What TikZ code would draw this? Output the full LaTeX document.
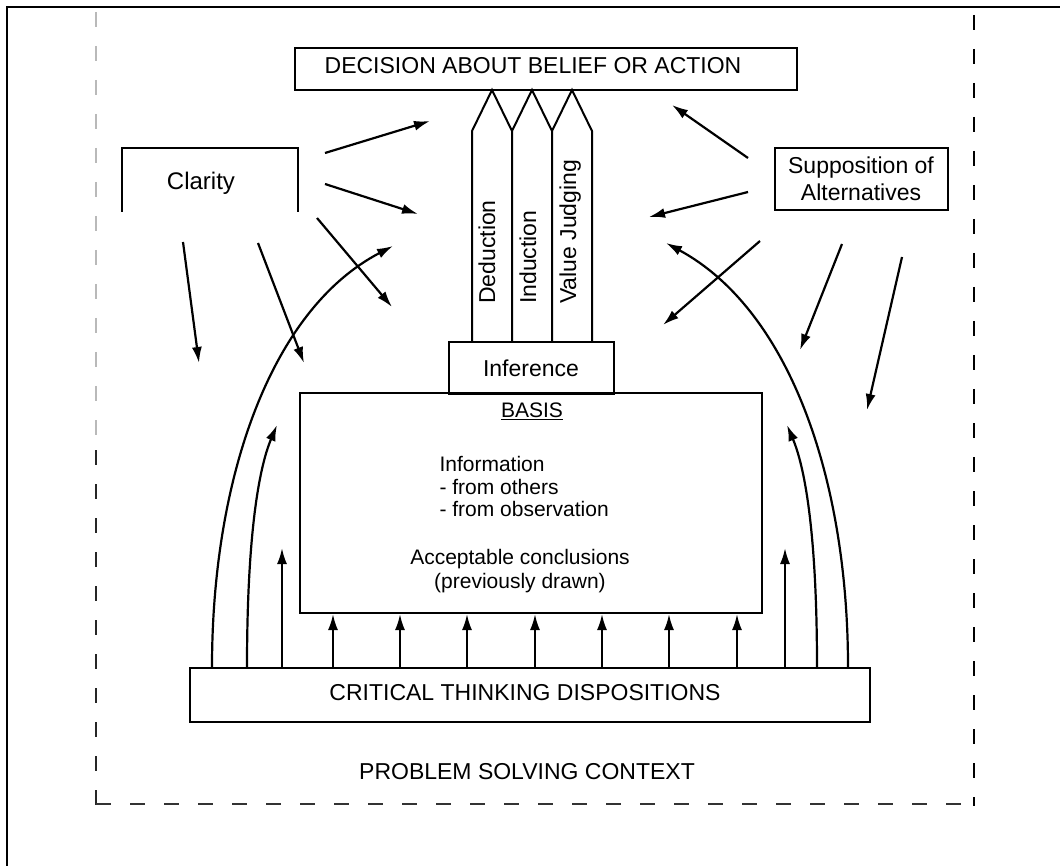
\documentclass[tikz,border=0pt]{standalone}
\usepackage{fontspec}
\setmainfont{Liberation Sans}
\usetikzlibrary{arrows.meta}
\begin{document}
\begin{tikzpicture}[x=1pt,y=-1pt,
  frame/.style={line width=2.4pt},
  box/.style={draw,line width=2pt,inner sep=0pt},
  col/.style={line width=2pt,line join=miter},
  arr/.style={line width=2.2pt,-{Latex[length=16pt,width=10pt]}},
  capsfont/.style={font=\fontsize{23}{27}\selectfont},
  boxfont/.style={font=\fontsize{23}{27}\selectfont},
  bodyfont/.style={font=\fontsize{21}{24}\selectfont},
  border/.style={line width=2.2pt,dash pattern=on 15pt off 19pt}]

\useasboundingbox (0,0) rectangle (1060,866);

% outer frame
\draw[frame] (1060,7) -- (7,7) -- (7,866);

% dashed border of the problem solving context
\draw[border,gray!55] (96,12) -- (96,450);
\draw[border,black!85] (96,450) -- (96,806);
\draw[border] (974,15) -- (974,806);
\draw[border,black!80] (96,804) -- (974,804);

% decision box
\node[box,minimum width=502pt,minimum height=42pt] (decision) at (546,69) {};
\node[capsfont] (decisiontext) at (533,66) {DECISION ABOUT BELIEF OR ACTION};

% clarity box (open at the bottom)
\draw[line width=2pt] (122,212) -- (122,148) -- (298,148) -- (298,212);
\node[boxfont,font=\fontsize{24}{28}\selectfont] (clarity) at (201,183) {Clarity};

% supposition box
\node[box,minimum width=173pt,minimum height=62pt] (suppbox) at (861,179) {};
\node[boxfont,align=center] (supp) at (861,179) {Supposition of\\Alternatives};

% the three inference columns
\draw[col] (472,342) -- (472,131) -- (492,90) -- (512,131) -- (512,342);
\draw[col] (512,131) -- (532,90) -- (552,131) -- (552,342);
\draw[col] (552,131) -- (572,90) -- (592,131) -- (592,342);
\node[boxfont,rotate=90,anchor=base west,inner sep=0pt] (ded) at (495,304) {Deduction};
\node[boxfont,rotate=90,anchor=base west,inner sep=0pt] (ind) at (536,304) {Induction};
\node[boxfont,rotate=90,anchor=base west,inner sep=0pt] (val) at (576,304) {Value Judging};

% inference box
\node[box,minimum width=165pt,minimum height=51pt] (infbox) at (531,368) {};
\node[boxfont] (inf) at (531,368) {Inference};

% basis box
\node[box,minimum width=462pt,minimum height=220pt] (basis) at (531,503) {};
\node[bodyfont] (basistitle) at (532,411) {\underline{BASIS}};
\node[bodyfont,anchor=west] (info) at (436,464) {Information};
\node[bodyfont,anchor=west] (others) at (436,487) {- from others};
\node[bodyfont,anchor=west] (observ) at (436,509) {- from observation};
\node[bodyfont,align=center] (accept) at (520,571) {Acceptable conclusions\\(previously drawn)};

% critical thinking dispositions
\node[box,minimum width=680pt,minimum height=54pt] (ctd) at (530,695) {};
\node[capsfont] (ctdtext) at (525,693) {CRITICAL THINKING DISPOSITIONS};

\node[capsfont] (context) at (527,772) {PROBLEM SOLVING CONTEXT};

% dispositions feeding the basis
\foreach \x in {333,400,467,535,602,669,737}
  \draw[arr] (\x,0 |- ctd.north) -- (\x,0 |- basis.south);

% dispositions feeding the wider process
\draw[arr] (282,0 |- ctd.north) -- (282,548);
\draw[arr] (785,0 |- ctd.north) -- (785,548);
\draw[arr] (247,0 |- ctd.north) .. controls (247,540) and (258,470) .. (277,425);
\draw[arr] (212,0 |- ctd.north) .. controls (212,480) and (270,310) .. (393,246);
\draw[arr] (817,0 |- ctd.north) .. controls (817,540) and (806,470) .. (787,425);
\draw[arr] (848,0 |- ctd.north) .. controls (848,480) and (790,310) .. (666,243);

% arrows from clarity
\draw[arr] (325,153) -- (430,121);
\draw[arr] (325,184) -- (418,214);
\draw[arr] (317,218) -- (392,307);
\draw[arr] (183,242) -- (199,363);
\draw[arr] (258,243) -- (304,363);

% arrows from supposition of alternatives
\draw[arr] (748,158) -- (672,105);
\draw[arr] (748,192) -- (649,217);
\draw[arr] (760,241) -- (663,325);
\draw[arr] (842,244) -- (800,350);
\draw[arr] (902,257) -- (867,410);
\end{tikzpicture}
\end{document}
